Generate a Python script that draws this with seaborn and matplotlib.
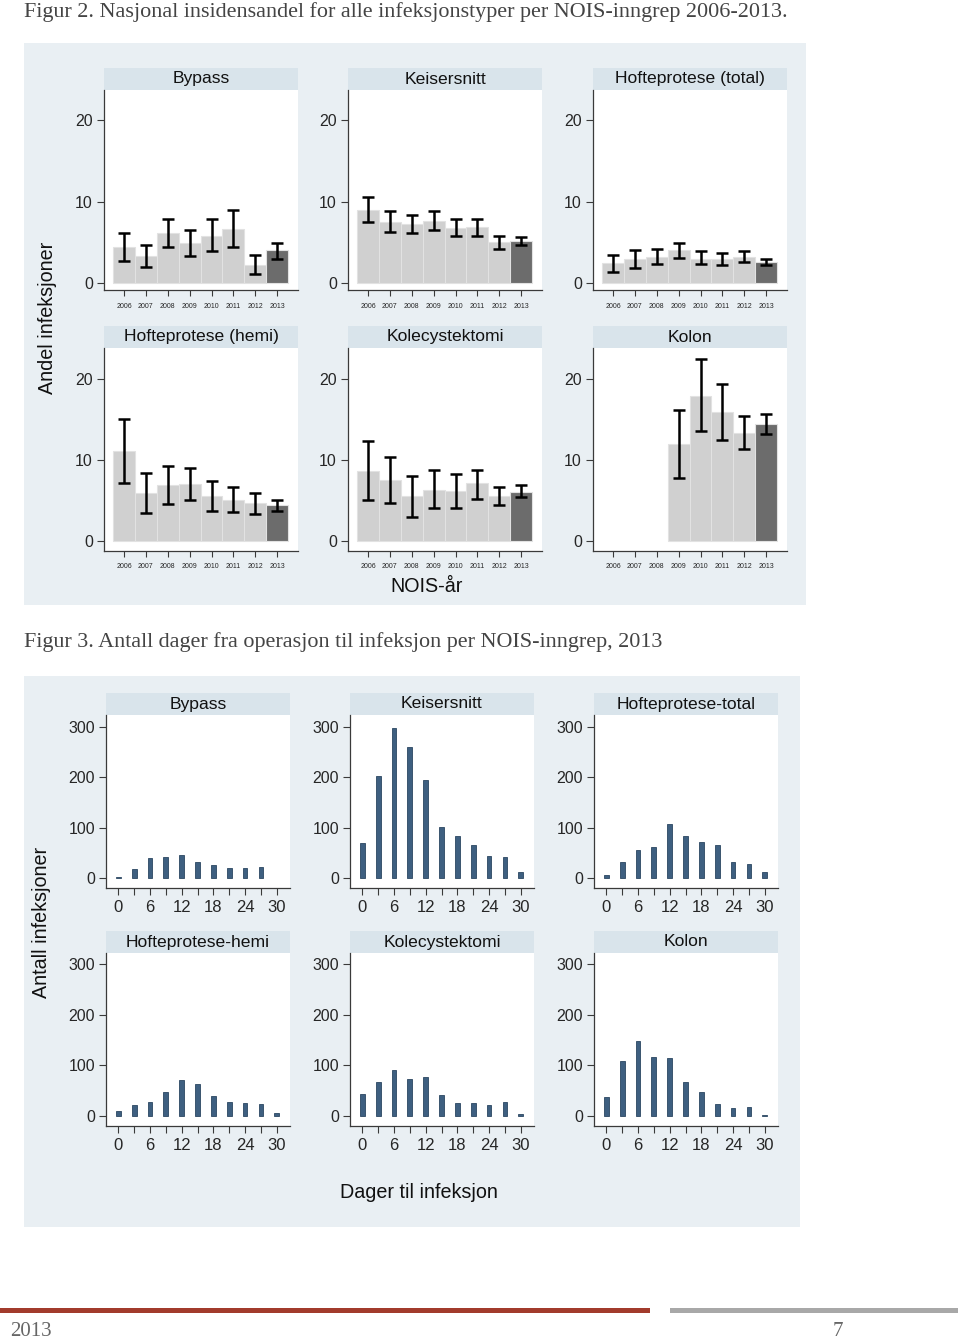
import numpy as np
import pandas as pd
import seaborn as sns
import matplotlib.pyplot as plt
from matplotlib.patches import Rectangle

# ---- data: figur 2 (insidensandel %, med konfidensintervall) ----
years = ['2006', '2007', '2008', '2009', '2010', '2011', '2012', '2013']
nan = np.nan

bypass_rate = [4.4, 3.3, 6.1, 4.9, 5.8, 6.6, 2.2, 4.0]
bypass_lo = [2.7, 2.0, 4.4, 3.3, 3.9, 4.4, 1.1, 3.0]
bypass_hi = [6.1, 4.7, 7.9, 6.5, 7.9, 9.0, 3.4, 4.9]

keiser_rate = [9.0, 7.5, 7.2, 7.6, 6.7, 6.9, 5.0, 5.1]
keiser_lo = [7.5, 6.3, 6.1, 6.5, 5.8, 5.8, 4.2, 4.7]
keiser_hi = [10.6, 8.8, 8.4, 8.8, 7.8, 7.9, 5.8, 5.6]

hofte_tot_rate = [2.4, 2.9, 3.2, 4.1, 3.0, 2.9, 3.2, 2.6]
hofte_tot_lo = [1.3, 1.9, 2.3, 3.1, 2.3, 2.2, 2.6, 2.2]
hofte_tot_hi = [3.4, 4.0, 4.2, 4.9, 3.9, 3.7, 3.9, 3.0]

hemi_rate = [11.1, 5.9, 6.9, 7.0, 5.5, 5.1, 4.7, 4.4]
hemi_lo = [7.1, 3.4, 4.6, 5.0, 3.7, 3.6, 3.3, 3.7]
hemi_hi = [15.1, 8.4, 9.2, 9.0, 7.4, 6.7, 5.9, 5.1]

kole_rate = [8.6, 7.5, 5.5, 6.3, 6.1, 7.1, 5.5, 6.0]
kole_lo = [5.1, 4.7, 3.0, 4.0, 4.1, 5.2, 4.4, 5.4]
kole_hi = [12.3, 10.4, 8.0, 8.7, 8.2, 8.8, 6.7, 6.9]

kolon_rate = [nan, nan, nan, 11.9, 17.9, 15.9, 13.3, 14.4]
kolon_lo = [nan, nan, nan, 7.7, 13.5, 12.5, 11.3, 13.2]
kolon_hi = [nan, nan, nan, 16.1, 22.4, 19.4, 15.4, 15.6]

# ---- data: figur 3 (antall infeksjoner per dager etter operasjon) ----
days = [0, 3, 6, 9, 12, 15, 18, 21, 24, 27, 30]
bypass_n = [2, 17, 40, 41, 45, 31, 25, 20, 20, 21, nan]
keiser_n = [70, 202, 299, 261, 195, 101, 83, 65, 44, 42, 11]
hofte_total_n = [6, 31, 55, 61, 108, 84, 72, 66, 31, 27, 12]
hemi_n = [9, 22, 27, 48, 71, 63, 40, 28, 25, 23, 5]
kole_n = [43, 68, 91, 73, 76, 41, 25, 25, 21, 27, 4]
kolon_n = [37, 108, 148, 116, 115, 67, 47, 24, 16, 18, 2]

W, H = 960, 1341
BG = '#e9eff3'
STRIP = '#d9e4eb'
AXC = '#3a3a3a'
LIGHT = '#d0d0d0'
DARK = '#6c6c6c'
BLUE = '#3e5f80'

sns.set_style('white')
plt.rcParams['font.family'] = ['Liberation Sans', 'DejaVu Sans']

fig = plt.figure(figsize=(W / 100, H / 100), dpi=100)


def box(x0, y0, x1, y1):
    return [x0 / W, 1 - y1 / H, (x1 - x0) / W, (y1 - y0) / H]


def rect(x0, y0, x1, y1, color):
    fig.patches.append(Rectangle((x0 / W, 1 - y1 / H), (x1 - x0) / W, (y1 - y0) / H,
                                 transform=fig.transFigure, facecolor=color,
                                 edgecolor='none', zorder=-10))


def header(x0, y0, x1, y1, title):
    rect(x0, y0, x1, y1, STRIP)
    fig.text((x0 + x1) / 2 / W, 1 - (y0 + y1) / 2 / H, title, ha='center',
             va='center', fontsize=12.6, color='#111111')


def style_axis(ax):
    for s in ['top', 'right']:
        ax.spines[s].set_visible(False)
    for s in ['left', 'bottom']:
        ax.spines[s].set_color(AXC)
        ax.spines[s].set_linewidth(0.9)
    ax.set_xlabel('')
    ax.set_ylabel('')


# ---------------- Figur 2 ----------------
serif = ['Liberation Serif', 'DejaVu Serif']
fig.text(24 / W, 1 - 12 / H, 'Figur 2. Nasjonal insidensandel for alle infeksjonstyper per '
         'NOIS-inngrep 2006-2013.', family=serif, fontsize=15.9, color='#444444',
         va='center', ha='left')
rect(24, 43, 806, 605, BG)

top_panels = [
    ('Bypass', bypass_rate, bypass_lo, bypass_hi),
    ('Keisersnitt', keiser_rate, keiser_lo, keiser_hi),
    ('Hofteprotese (total)', hofte_tot_rate, hofte_tot_lo, hofte_tot_hi),
    ('Hofteprotese (hemi)', hemi_rate, hemi_lo, hemi_hi),
    ('Kolecystektomi', kole_rate, kole_lo, kole_hi),
    ('Kolon', kolon_rate, kolon_lo, kolon_hi),
]
cols2 = [(104, 298), (348, 542), (593, 787)]
rows2 = [((68, 90), (90, 290), (-0.86, 23.7)), ((326, 348), (348, 551), (-1.25, 23.8))]
pal = {y: (DARK if y == '2013' else LIGHT) for y in years}

for i, (title, rate, lo, hi) in enumerate(top_panels):
    (hy0, hy1), (py0, py1), ylim = rows2[i // 3]
    x0, x1 = cols2[i % 3]
    header(x0, hy0, x1, hy1, title)
    ax = fig.add_axes(box(x0, py0, x1, py1))
    df = pd.DataFrame({'year': years, 'rate': rate})
    sns.barplot(data=df, x='year', y='rate', order=years, hue='year', palette=pal,
                width=1, legend=False, errorbar=None, edgecolor='#e2e2e2',
                linewidth=0.8, saturation=1, ax=ax)
    r = np.array(rate, dtype=float)
    ax.errorbar(np.arange(len(years)), r,
                yerr=[r - np.array(lo, dtype=float), np.array(hi, dtype=float) - r],
                fmt='none', ecolor='black', elinewidth=1.8, capsize=4, capthick=1.8)
    ax.set_xlim(-0.91, 7.95)
    ax.set_ylim(*ylim)
    ax.set_yticks([0, 10, 20])
    ax.tick_params(axis='y', length=5, width=0.8, color=AXC, labelsize=11.5, pad=3,
                   direction='out', left=True)
    ax.tick_params(axis='x', length=4, width=0.8, color=AXC, labelsize=5, pad=5,
                   direction='out', bottom=True)
    ax.set_facecolor('white')
    style_axis(ax)

fig.text(48 / W, 1 - 318 / H, 'Andel infeksjoner', rotation=90, ha='center',
         va='center', fontsize=14.2, color='#111111')
fig.text(427 / W, 1 - 586 / H, 'NOIS-år', ha='center', va='center', fontsize=14.2,
         color='#111111')

# ---------------- Figur 3 ----------------
fig.text(24 / W, 1 - 642 / H, 'Figur 3. Antall dager fra operasjon til infeksjon per '
         'NOIS-inngrep, 2013', family=serif, fontsize=15.9, color='#444444',
         va='center', ha='left')
rect(24, 676, 800, 1227, BG)

bottom_panels = [
    ('Bypass', bypass_n), ('Keisersnitt', keiser_n), ('Hofteprotese-total', hofte_total_n),
    ('Hofteprotese-hemi', hemi_n), ('Kolecystektomi', kole_n), ('Kolon', kolon_n),
]
cols3 = [(106, 290), (350, 534), (594, 778)]
rows3 = [((693, 715), (715, 888), (-19.9, 324)), ((931, 953), (953, 1126), (-19.7, 321.5))]

for i, (title, counts) in enumerate(bottom_panels):
    (hy0, hy1), (py0, py1), ylim = rows3[i // 3]
    x0, x1 = cols3[i % 3]
    header(x0, hy0, x1, hy1, title)
    ax = fig.add_axes(box(x0, py0, x1, py1))
    df = pd.DataFrame({'dager': days, 'n': counts}).dropna()
    sns.barplot(data=df, x='dager', y='n', native_scale=True, width=0.3, color=BLUE,
                saturation=1, errorbar=None, edgecolor='#2b4661', linewidth=0.6, ax=ax)
    ax.set_xlim(-2.33, 32.5)
    ax.set_ylim(*ylim)
    ax.set_xticks([0, 6, 12, 18, 24, 30])
    ax.set_xticks([3, 9, 15, 21, 27], minor=True)
    ax.set_yticks([0, 100, 200, 300])
    ax.tick_params(axis='y', length=5, width=0.8, color=AXC, labelsize=11.5, pad=3,
                   direction='out', left=True)
    ax.tick_params(axis='x', which='both', length=5, width=0.8, color=AXC,
                   labelsize=12, pad=4, direction='out', bottom=True)
    ax.set_facecolor('white')
    style_axis(ax)

fig.text(42 / W, 1 - 922 / H, 'Antall infeksjoner', rotation=90, ha='center',
         va='center', fontsize=14.2, color='#111111')
fig.text(419 / W, 1 - 1192 / H, 'Dager til infeksjon', ha='center', va='center',
         fontsize=14.2, color='#111111')

# ---------------- footer ----------------
rect(0, 1308, 650, 1313, '#a23b2c')
rect(670, 1308, 958, 1313, '#a8a8a8')
fig.text(10 / W, 1 - 1331 / H, '2013', family=serif, fontsize=15, color='#666666',
         va='center', ha='left')
fig.text(833 / W, 1 - 1331 / H, '7', family=serif, fontsize=15, color='#666666',
         va='center', ha='left')

fig.savefig('out.png', dpi=100, facecolor='white')
